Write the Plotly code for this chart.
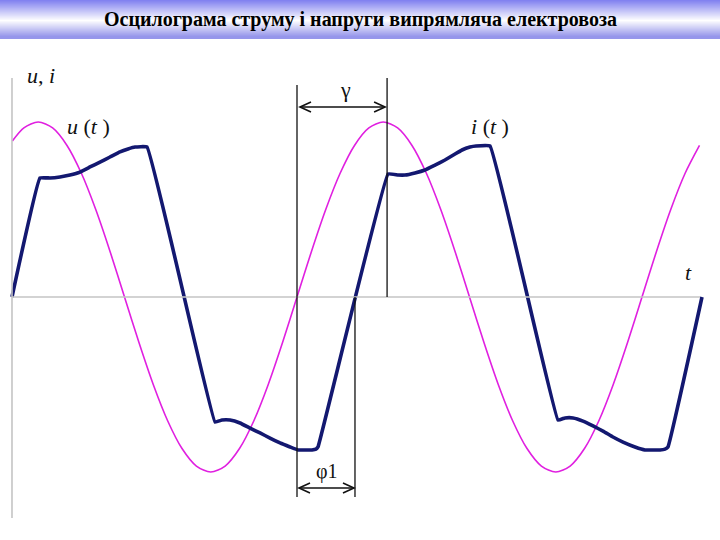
import plotly.graph_objects as go

# ---- data (electrical degrees, normalised amplitude) ----
u_t = [-297, -285, -270, -255, -240, -225, -210, -195, -180, -165, -150, -135, -120, -105, -90, -75, -60, -45, -30, -15,
       0, 15, 30, 45, 60, 75, 90, 105, 120, 135, 150, 165, 180, 195, 210, 225, 240, 255, 270, 285, 300, 315, 330, 345,
       360, 375, 390, 405, 420]
u_val = [0.891, 0.966, 1.0, 0.966, 0.866, 0.707, 0.5, 0.259, 0.0, -0.259, -0.5, -0.707, -0.866, -0.966, -1.0, -0.966, -0.866, -0.707, -0.5, -0.259,
         0.0, 0.259, 0.5, 0.707, 0.866, 0.966, 1.0, 0.966, 0.866, 0.707, 0.5, 0.259, 0.0, -0.259, -0.5, -0.707, -0.866, -0.966, -1.0, -0.966, -0.866, -0.707, -0.5, -0.259,
         0.0, 0.259, 0.5, 0.707, 0.866]

i_t = [-297.4, -268.2, -257.7, -247.3, -236.9, -226.4, -216.0, -205.6, -195.1, -184.7, -176.3, -169.0, -156.5,
       -85.6, -78.3, -69.9, -59.5, -49.0, -38.6, -28.2, -17.7, -7.3, 1.0, 15.7, 19.8, 21.9,
       95.0, 105.4, 112.7, 123.1, 133.6, 144.0, 154.4, 164.9, 172.2, 180.5, 186.8, 201.4,
       272.3, 279.7, 288.0, 298.4, 308.9, 319.3, 329.7, 340.2, 352.7, 363.1, 378.8, 384.0, 387.1, 422.6]
i_val = [0.0, 0.680, 0.680, 0.686, 0.697, 0.714, 0.743, 0.771, 0.800, 0.829, 0.846, 0.857, 0.857,
         -0.714, -0.703, -0.703, -0.720, -0.749, -0.777, -0.806, -0.834, -0.857, -0.874, -0.874, -0.869, -0.857,
         0.703, 0.697, 0.697, 0.709, 0.726, 0.754, 0.783, 0.817, 0.840, 0.857, 0.863, 0.863,
         -0.703, -0.691, -0.691, -0.709, -0.737, -0.766, -0.800, -0.829, -0.857, -0.874, -0.874, -0.869, -0.857, 0.0]

gamma_deg = 94.0   # end of commutation angle marker
phi1_deg = 60.5    # current zero-crossing lag

title = "Осцилограма струму і напруги випрямляча електровоза"

# ---- layout helpers (pixel geometry of the 720x540 canvas) ----
W, H = 720, 540
X0, KX = 297.0, 345.0 / 360.0
Y0, KY = 297.0, 175.0

def px(t):
    return X0 + t * KX

def PX(x):
    return x / W

def PY(y):
    return 1 - y / H

fig = go.Figure()
fig.add_trace(go.Scatter(x=u_t, y=u_val, mode="lines", line=dict(color="#e020e0", width=1.6, shape="spline", smoothing=0.8),
                         hoverinfo="skip", showlegend=False))
fig.add_trace(go.Scatter(x=i_t, y=i_val, mode="lines", line=dict(color="#131870", width=3.6, shape="spline", smoothing=0.25),
                         hoverinfo="skip", showlegend=False))

shapes = []
# title bar gradient
top = (130, 130, 240)
bot = (150, 150, 235)
for y in range(0, 39):
    if y <= 20:
        f = y / 20.0
        c = tuple(int(top[k] + (255 - top[k]) * f) for k in range(3))
    else:
        f = min(1.0, (y - 20) / 16.0)
        c = tuple(int(255 + (bot[k] - 255) * f) for k in range(3))
    shapes.append(dict(type="rect", xref="paper", yref="paper", x0=0, x1=1, y0=PY(y + 1), y1=PY(y),
                       fillcolor="rgb(%d,%d,%d)" % c, line=dict(width=0), layer="below"))

gray = "#c4c4c4"
t_left = -297.4
t_right = 420.5
# axes
shapes.append(dict(type="line", xref="x", yref="y", x0=t_left, x1=t_left, y0=(Y0 - 78) / KY, y1=(Y0 - 518) / KY,
                   line=dict(color=gray, width=1.6)))
shapes.append(dict(type="line", xref="x", yref="y", x0=t_left, x1=t_right, y0=0, y1=0,
                   line=dict(color=gray, width=1.4)))
# marker lines
blk = "#111111"
shapes.append(dict(type="line", xref="x", yref="y", x0=0, x1=0, y0=(Y0 - 85) / KY, y1=(Y0 - 497) / KY, line=dict(color=blk, width=1.3)))
shapes.append(dict(type="line", xref="x", yref="y", x0=gamma_deg, x1=gamma_deg, y0=(Y0 - 78) / KY, y1=0, line=dict(color=blk, width=1.3)))
shapes.append(dict(type="line", xref="x", yref="y", x0=phi1_deg, x1=phi1_deg, y0=0, y1=(Y0 - 497) / KY, line=dict(color=blk, width=1.3)))

def harrow(xa, xb, y):
    out = [dict(type="line", xref="paper", yref="paper", x0=PX(xa), x1=PX(xb), y0=PY(y), y1=PY(y), line=dict(color=blk, width=1.6))]
    for tip, d in ((xa, 1), (xb, -1)):
        path = "M %f,%f L %f,%f L %f,%f" % (PX(tip + 11 * d), PY(y - 5), PX(tip), PY(y), PX(tip + 11 * d), PY(y + 5))
        out.append(dict(type="path", xref="paper", yref="paper", path=path, line=dict(color=blk, width=1.6)))
    return out

shapes += harrow(px(0) + 3, px(gamma_deg) - 2, 107)
shapes += harrow(px(0) + 2, px(phi1_deg) - 1, 488)

ann = []
def text(x, y, s, size=20, family="Liberation Serif, Times New Roman, serif", color="#111111"):
    ann.append(dict(x=PX(x), y=PY(y), xref="paper", yref="paper", text=s, showarrow=False,
                    font=dict(family=family, size=size, color=color), xanchor="center", yanchor="middle"))

text(360, 19, "<b>" + title + "</b>", size=20, color="#000000")
text(41, 76, "<i>u</i>, <i>i</i>", size=22)
text(88, 127, "<i>u</i> (<i>t</i> )", size=22)
text(490, 127, "<i>i</i> (<i>t</i> )", size=22)
text(688, 272, "<i>t</i>", size=22)
text(345, 90, "γ", size=22)
text(327, 471, "φ1", size=20)

fig.update_layout(
    width=W, height=H, margin=dict(l=0, r=0, t=0, b=0),
    paper_bgcolor="white", plot_bgcolor="white",
    xaxis=dict(range=[(0 - X0) / KX, (W - X0) / KX], visible=False, fixedrange=True),
    yaxis=dict(range=[(Y0 - H) / KY, Y0 / KY], visible=False, fixedrange=True),
    shapes=shapes, annotations=ann, showlegend=False,
)
fig.write_html("out.html", config={"displayModeBar": False},
               post_script="document.body.style.margin='0';")
